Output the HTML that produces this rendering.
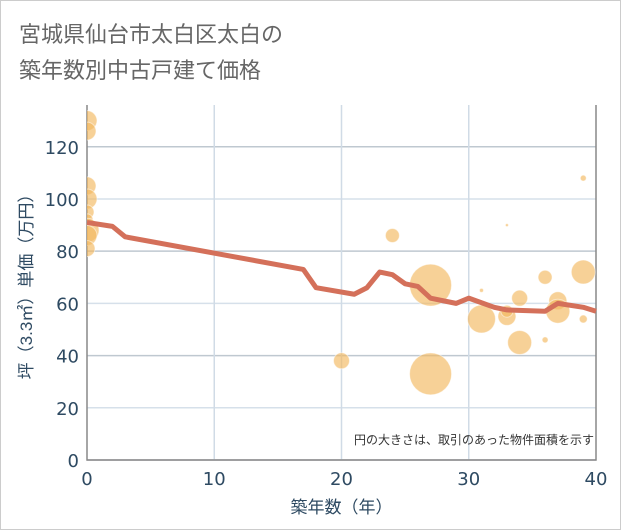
<!DOCTYPE html>
<html><head><meta charset="utf-8">
<style>
body{margin:0;background:#fff;font-family:"Liberation Sans","Noto Sans CJK JP",sans-serif;}
#wrap{width:619px;height:528px;border:1px solid #ccc;position:relative;background:#fff;}
</style></head>
<body>
<div id="wrap">
<svg id="chart" width="619" height="528" style="position:absolute;left:0;top:0">
<defs><clipPath id="plotclip"><rect x="86" y="104" width="509" height="355"/></clipPath></defs>
<text x="18" y="41" font-size="22" fill="#666">宮城県仙台市太白区太白の</text>
<text x="18" y="77" font-size="22" fill="#666">築年数別中古戸建て価格</text>
</svg>
</div>
<script>
const xTicks=[0,10,20,30,40];
const yTicks=[0,20,40,60,80,100,120];
const bubbleYears=[0,0,0,0,0,0,0,0,0,20,24,27,27,31,31,33,33,33,34,34,36,36,37,37,39,39,39];
const bubblePrices=[130,126,105,100,95,92,88,86,81,38,86,67,33,65,54,90,55,57,62,45,70,46,61,57,108,72,54];
const bubbleSizes=[10,9,9,10,7,6,12,10,8,8,7,21,21,2,14,1.5,9,6,8,12,7,3,9,12,3,12,4];
const lineYears=[0,2,3,17,18,21,22,23,24,25,26,27,29,30,32,33,36,37,39,40];
const linePrices=[91,89.5,85.5,73,66,63.5,66,72,71,67.5,66.5,62,60,62,58.5,57.5,57,60,58.5,57];
const NS='http://www.w3.org/2000/svg';
const svg=document.getElementById('chart');
const L=86,R=595,T=104,B=459;
const FONT='"DejaVu Sans","Liberation Sans",sans-serif';
const xs=v=>L+(v-0)/(40-0)*(R-L);
const ys=v=>B-(v/136)*(B-T);
function mk(t,a,parent){const e=document.createElementNS(NS,t);for(const k in a)e.setAttribute(k,a[k]);(parent||svg).appendChild(e);return e;}
yTicks.forEach((v,i)=>{
  const g=mk('line',{x1:L,x2:R,y1:ys(v),y2:ys(v),stroke:i%2?'#d6e0ea':'#bfc8d0','stroke-width':1.5});
  
  
  const t=mk('text',{x:L-8,y:ys(v)+7,'text-anchor':'end','font-size':18,fill:'#2e4a62','font-family':FONT});
  t.textContent=v;
  
  
});
xTicks.forEach(v=>{
  if(v>0&&v<40){const g=mk('line',{x1:xs(v),x2:xs(v),y1:T,y2:B,stroke:'#d0dbe6','stroke-width':1.5});
  
  }
  const t=mk('text',{x:xs(v),y:B+25,'text-anchor':'middle','font-size':18,fill:'#2e4a62','font-family':FONT});
  t.textContent=v;
  
  
});
const ax=mk('path',{d:`M${L},${T} V${B} H${R} V${T}`,fill:'none',stroke:'#888','stroke-width':1.5});


const bg=mk('g',{'clip-path':'url(#plotclip)'});


bubbleYears.forEach((yr,i)=>{
  const c=mk('circle',{cx:xs(yr),cy:ys(bubblePrices[i]),r:bubbleSizes[i],fill:'#f3b85f','fill-opacity':0.65,stroke:'#fff','stroke-opacity':0.5,'stroke-width':1},bg);
  
  
});
const p=mk('polyline',{points:lineYears.map((y,i)=>xs(y)+','+ys(linePrices[i])).join(' '),fill:'none',stroke:'#d4705a','stroke-width':5,'stroke-linejoin':'round'});


const n=mk('text',{x:R-2,y:443,'text-anchor':'end','font-size':12,fill:'#333'});
n.textContent='円の大きさは、取引のあった物件面積を示す';


const xt=mk('text',{x:(L+R)/2,y:512,'text-anchor':'middle','font-size':17,fill:'#2e4a62'});
xt.textContent='築年数（年）';


const yt=mk('text',{x:0,y:0,'text-anchor':'middle','font-size':17,fill:'#2e4a62',transform:`translate(31,${(T+B)/2}) rotate(-90)`});
yt.textContent='坪（3.3㎡）単価（万円）';


</script>
</body></html>
